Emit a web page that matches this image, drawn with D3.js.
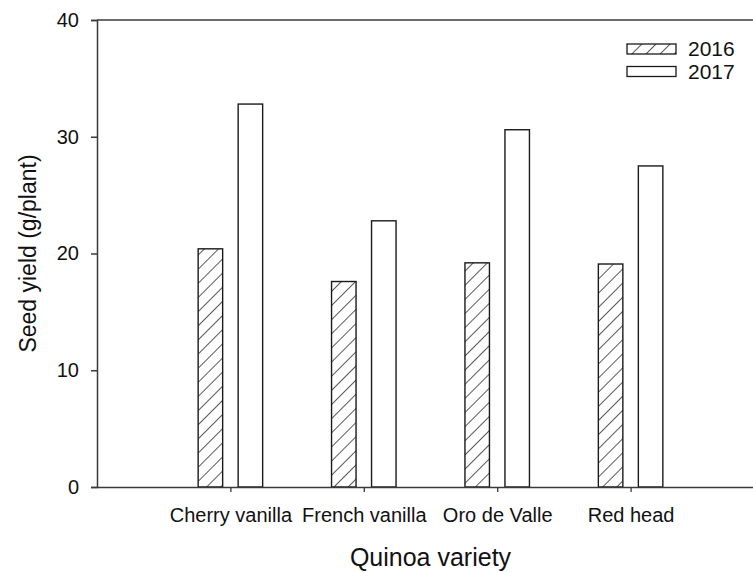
<!DOCTYPE html>
<html>
<head>
<meta charset="utf-8">
<script src="https://cdn.jsdelivr.net/npm/d3@7"></script>
<style>
  body { margin: 0; background: #fff; }
  svg { display: block; font-family: Arial, "Liberation Sans", sans-serif; }
</style>
</head>
<body>
<svg id="chart"></svg>
<script>
// data
const varieties = ['Cherry vanilla', 'French vanilla', 'Oro de Valle', 'Red head'];
const years = ['2016', '2017'];
const yield2016 = [20.4, 17.6, 19.2, 19.1];
const yield2017 = [32.8, 22.8, 30.6, 27.5];
const yTicks = [0, 10, 20, 30, 40];

const width = 753, height = 572;
const margin = { top: 20, left: 97, bottom: 85 };
const plotRight = 764;   // frame runs past the right edge of the picture
const axisColor = '#3a3a3a';

const svg = d3.select('#chart')
    .attr('width', width)
    .attr('height', height);

// hatch for 2016 bars
const defs = svg.append('defs');
defs.append('pattern')
    .attr('id', 'hatch')
    .attr('patternUnits', 'userSpaceOnUse')
    .attr('width', 10)
    .attr('height', 10)
    .attr('patternTransform', 'rotate(45)')
  .append('line')
    .attr('x1', 0).attr('y1', 0)
    .attr('x2', 0).attr('y2', 10)
    .attr('stroke', '#111')
    .attr('stroke-width', 1.4);

const yBottom = height - margin.bottom;   // 487
const xScale = d3.scalePoint()
    .domain(varieties)
    .range([margin.left, plotRight])
    .padding(1);

const yScale = d3.scaleLinear()
    .domain([0, 40])
    .range([yBottom, margin.top]);

const barW = 24.5;
const offset = 20;

const rows = varieties.map((v, i) => ({ variety: v, y2016: yield2016[i], y2017: yield2017[i] }));

// bars
const g = svg.append('g');
g.selectAll('rect.b2016')
  .data(rows)
  .join('rect')
    .attr('class', 'b2016')
    .attr('x', d => xScale(d.variety) - offset - barW / 2)
    .attr('y', d => yScale(d.y2016))
    .attr('width', barW)
    .attr('height', d => yScale(0) - yScale(d.y2016))
    .attr('fill', 'url(#hatch)')
    .attr('stroke', '#1a1a1a')
    .attr('stroke-width', 1.4);

g.selectAll('rect.b2017')
  .data(rows)
  .join('rect')
    .attr('class', 'b2017')
    .attr('x', d => xScale(d.variety) + offset - barW / 2)
    .attr('y', d => yScale(d.y2017))
    .attr('width', barW)
    .attr('height', d => yScale(0) - yScale(d.y2017))
    .attr('fill', '#fff')
    .attr('stroke', '#1a1a1a')
    .attr('stroke-width', 1.4);

// frame top line
svg.append('line')
    .attr('x1', margin.left).attr('x2', plotRight)
    .attr('y1', yScale(40)).attr('y2', yScale(40))
    .attr('stroke', axisColor)
    .attr('stroke-width', 1.5);

// y axis
const yAxisG = svg.append('g')
    .attr('transform', `translate(${margin.left},0)`)
    .call(d3.axisLeft(yScale).tickValues(yTicks).tickSize(6).tickPadding(12).tickFormat(d3.format('d')));
yAxisG.select('.domain').attr('stroke', axisColor).attr('stroke-width', 1.5);
yAxisG.selectAll('.tick line').attr('stroke', axisColor).attr('stroke-width', 1.5);
yAxisG.selectAll('.tick text')
    .attr('fill', '#111')
    .style('font-size', '20px')
    .style('font-family', 'Arial, "Liberation Sans", sans-serif');

// x axis
const xAxisG = svg.append('g')
    .attr('transform', `translate(0,${yBottom})`)
    .call(d3.axisBottom(xScale).tickSize(5).tickPadding(16).tickSizeOuter(0));
xAxisG.select('.domain').attr('stroke', axisColor).attr('stroke-width', 1.5);
xAxisG.selectAll('.tick line').attr('stroke', axisColor).attr('stroke-width', 1.3);
xAxisG.selectAll('.tick text')
    .attr('fill', '#111')
    .style('font-size', '20px')
    .style('font-family', 'Arial, "Liberation Sans", sans-serif');

// axis titles
svg.append('text')
    .attr('x', (margin.left + plotRight) / 2)
    .attr('y', 566)
    .attr('text-anchor', 'middle')
    .attr('fill', '#111')
    .style('font-size', '25px')
    .text('Quinoa variety');

svg.append('text')
    .attr('transform', `translate(36,${(yScale(0) + yScale(40)) / 2}) rotate(-90)`)
    .attr('text-anchor', 'middle')
    .attr('fill', '#111')
    .style('font-size', '23px')
    .text('Seed yield (g/plant)');

// legend
const legend = svg.append('g').attr('transform', 'translate(627,44)');
years.forEach((yr, i) => {
  const row = legend.append('g').attr('transform', `translate(0,${i * 22.5})`);
  row.append('rect')
      .attr('width', 49)
      .attr('height', 10)
      .attr('fill', i === 0 ? 'url(#hatch)' : '#fff')
      .attr('stroke', '#1a1a1a')
      .attr('stroke-width', 1.3);
  row.append('text')
      .attr('x', 61)
      .attr('y', 5)
      .attr('dy', '0.35em')
      .attr('fill', '#111')
      .style('font-size', '21px')
      .text(yr);
});
</script>
</body>
</html>
